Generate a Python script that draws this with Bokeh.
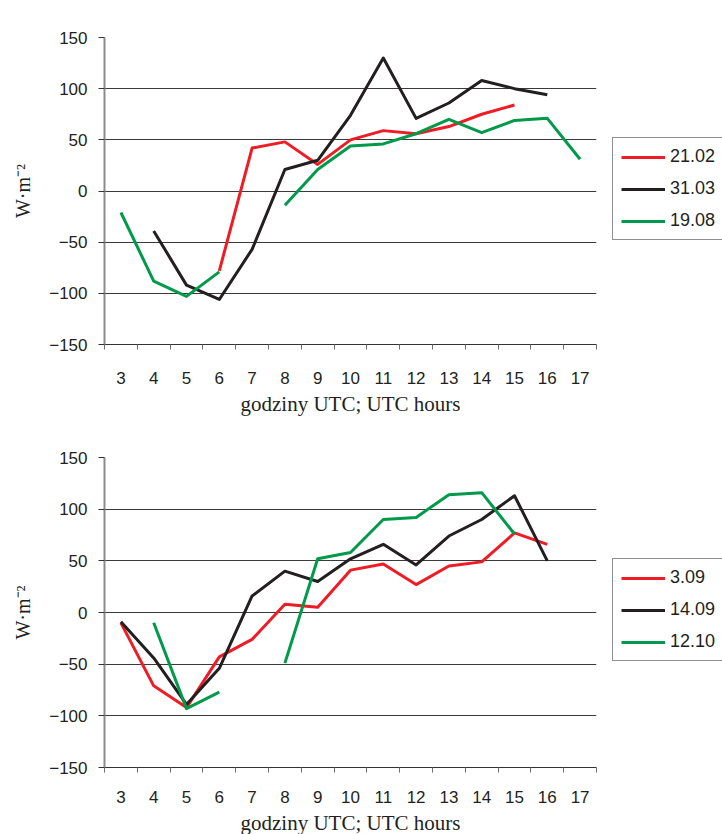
import math
from bokeh.plotting import figure
from bokeh.models import Range1d, FixedTicker, Legend, LegendItem
from bokeh.layouts import column
from bokeh.embed import file_html
from bokeh.resources import INLINE

nan = float("nan")

hours = [3, 4, 5, 6, 7, 8, 9, 10, 11, 12, 13, 14, 15, 16, 17]
hour_labels = [str(h) for h in hours]
y_ticks = [-150, -100, -50, 0, 50, 100, 150]

# top panel
top_labels = ["21.02", "31.03", "19.08"]
top_2102 = [nan, nan, nan, -78, 42, 48, 26, 50, 59, 56, 63, 75, 84, nan, nan]
top_3103 = [nan, -39, -92, -106, -57, 21, 30, 74, 130, 71, 86, 108, 100, 94, nan]
top_1908 = [-21, -88, -103, -79, nan, -14, 21, 44, 46, 56, 70, 57, 69, 71, 31]

# bottom panel
bot_labels = ["3.09", "14.09", "12.10"]
bot_0309 = [-10, -71, -92, -43, -26, 8, 5, 41, 47, 27, 45, 49, 77, 66, nan]
bot_1409 = [-9, -44, -89, -54, 16, 40, 30, 52, 66, 46, 74, 90, 113, 50, nan]
bot_1210 = [nan, -10, -93, -77, nan, -49, 52, 58, 90, 92, 114, 116, 76, nan, nan]

colors = ["#ee1c25", "#231f20", "#009a4a"]

x_title = "godziny UTC; UTC hours"
y_title = "W\u00b7m\u207b\u00b2"


def make_panel(series, labels, frame_h, top_border, bottom_border, tick_standoff,
               title_standoff, legend_y):
    p = figure(frame_width=492, frame_height=frame_h, output_backend="svg",
               toolbar_location=None,
               x_range=Range1d(hours[0] - 0.5, hours[-1] + 0.5),
               y_range=Range1d(y_ticks[0], y_ticks[-1]),
               min_border_left=104, min_border_right=126, min_border_top=top_border,
               min_border_bottom=bottom_border)
    p.outline_line_color = None
    p.background_fill_color = "white"
    p.border_fill_color = "white"

    # x axis
    xa = p.xaxis[0]
    xa.ticker = FixedTicker(ticks=hours, minor_ticks=[h - 0.5 for h in hours] + [hours[-1] + 0.5])
    xa.major_label_overrides = {h: s for h, s in zip(hours, hour_labels)}
    xa.major_tick_out = 0
    xa.major_tick_in = 0
    xa.minor_tick_out = 5
    xa.minor_tick_in = 0
    xa.minor_tick_line_color = "#6d6d6d"
    xa.minor_tick_line_width = 1
    xa.axis_line_color = "#333333"
    xa.axis_line_width = 1
    xa.major_label_standoff = tick_standoff
    xa.major_label_text_font = "Liberation Sans"
    xa.major_label_text_font_size = "17px"
    xa.major_label_text_color = "#231f20"
    xa.axis_label = x_title
    xa.axis_label_text_font = "Liberation Serif"
    xa.axis_label_text_font_size = "21px"
    xa.axis_label_text_font_style = "normal"
    xa.axis_label_text_color = "#231f20"
    xa.axis_label_standoff = title_standoff

    # y axis
    ya = p.yaxis[0]
    ya.ticker = FixedTicker(ticks=y_ticks)
    ya.minor_tick_line_color = None
    ya.major_tick_out = 6
    ya.major_tick_in = 0
    ya.major_tick_line_color = "#333333"
    ya.major_tick_line_width = 1
    ya.axis_line_color = "#8c8c8c"
    ya.axis_line_width = 2
    ya.major_label_standoff = 11
    ya.major_label_text_font = "Liberation Sans"
    ya.major_label_text_font_size = "17px"
    ya.major_label_text_color = "#231f20"
    ya.axis_label = y_title
    ya.axis_label_text_font = "Liberation Serif"
    ya.axis_label_text_font_size = "20px"
    ya.axis_label_text_font_style = "normal"
    ya.axis_label_text_color = "#231f20"
    ya.axis_label_standoff = 12

    p.xgrid.grid_line_color = None
    p.ygrid[0].ticker = FixedTicker(ticks=y_ticks)
    p.ygrid.grid_line_color = "#3a3a3a"
    p.ygrid.grid_line_width = 1

    items = []
    for vals, lab, col in zip(series, labels, colors):
        r = p.line(hours, vals, line_color=col, line_width=3, line_join="round")
        items.append(LegendItem(label=lab, renderers=[r]))

    legend = Legend(items=items, location=(16, legend_y), orientation="vertical",
                    padding=8, spacing=11, margin=0,
                    glyph_width=44, glyph_height=20, label_height=20,
                    label_standoff=5,
                    label_text_font="Liberation Sans", label_text_font_size="18px",
                    label_text_color="#231f20",
                    border_line_color="#231f20", border_line_width=1,
                    background_fill_color="white", background_fill_alpha=1)
    p.add_layout(legend, "right")
    return p


p1 = make_panel([top_2102, top_3103, top_1908], top_labels, 307, 37, 86, 22, 5, 104)
p2 = make_panel([bot_0309, bot_1409, bot_1210], bot_labels, 310, 27, 67, 18, 5, 106)

layout = column(p1, p2, spacing=0)
open("out.html", "w").write(file_html(layout, INLINE))
